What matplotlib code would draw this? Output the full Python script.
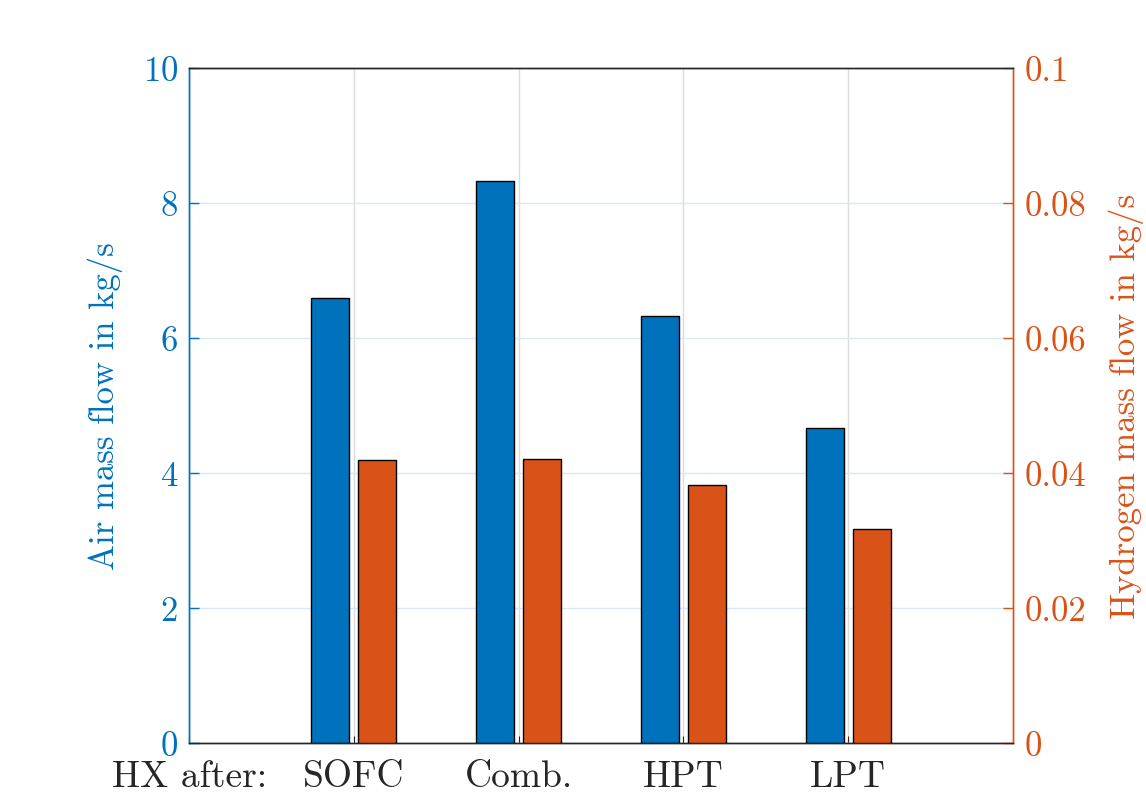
import numpy as np
import matplotlib
matplotlib.use("Agg")
import matplotlib.pyplot as plt

plt.rcParams['font.family'] = 'serif'
plt.rcParams['font.serif'] = ['cmr10']
plt.rcParams['mathtext.fontset'] = 'cm'
plt.rcParams['axes.formatter.use_mathtext'] = True

# mass flows per heat exchanger position
labels = ['HX after:', 'SOFC', 'Comb.', 'HPT', 'LPT']
air_flow = [6.59, 8.33, 6.33, 4.67]          # kg/s
h2_flow = [0.0419, 0.0421, 0.0382, 0.0317]   # kg/s

blue = '#0072BD'
orange = '#D95319'
dark = '#262626'

fig = plt.figure(figsize=(11.46, 8.04), dpi=100)
ax = fig.add_axes([0.165, 0.0746, 0.719, 0.8394])
ax2 = ax.twinx()

x = np.arange(1, len(air_flow) + 1)
w = 0.23
off = 0.143
ax.bar(x - off, air_flow, w, color=blue, edgecolor='black', linewidth=1.0, zorder=3)
ax2.bar(x + off, h2_flow, w, color=orange, edgecolor='black', linewidth=1.0, zorder=3)

ax.set_xlim(0, 5)
ax.set_ylim(0, 10)
ax2.set_ylim(0, 0.1)
ax.set_xticks(range(len(labels)))
ax.set_xticklabels(labels, fontsize=27, color=dark)
ax.set_yticks([0, 2, 4, 6, 8, 10])
ax2.set_yticks([0, 0.02, 0.04, 0.06, 0.08, 0.1])
ax2.set_yticklabels(['0', '0.02', '0.04', '0.06', '0.08', '0.1'])

ax.tick_params(axis='x', direction='in', length=5, width=0.8, color=dark, pad=12)
ax.tick_params(axis='y', direction='in', length=7, width=1.0, colors=blue, labelsize=25, pad=8)
ax2.tick_params(axis='y', direction='in', length=7, width=1.0, colors=orange, labelsize=25, pad=8)

ax.set_ylabel('Air mass flow in kg/s', fontsize=25, color=blue, labelpad=14)
ax2.set_ylabel('Hydrogen mass flow in kg/s', fontsize=25, color=orange, labelpad=16)

ax.xaxis.grid(True, color='#dcdcdc', linewidth=1.0, zorder=0)
ax.yaxis.grid(True, color='#d8e8f4', linewidth=1.0, zorder=0)
ax.set_axisbelow(True)

for a in (ax, ax2):
    a.spines['top'].set_color(dark)
    a.spines['bottom'].set_color(dark)
    a.spines['left'].set_color(blue)
    a.spines['right'].set_color(orange)
    for s in a.spines.values():
        s.set_linewidth(1.0)

fig.savefig('out.png', dpi=100)
